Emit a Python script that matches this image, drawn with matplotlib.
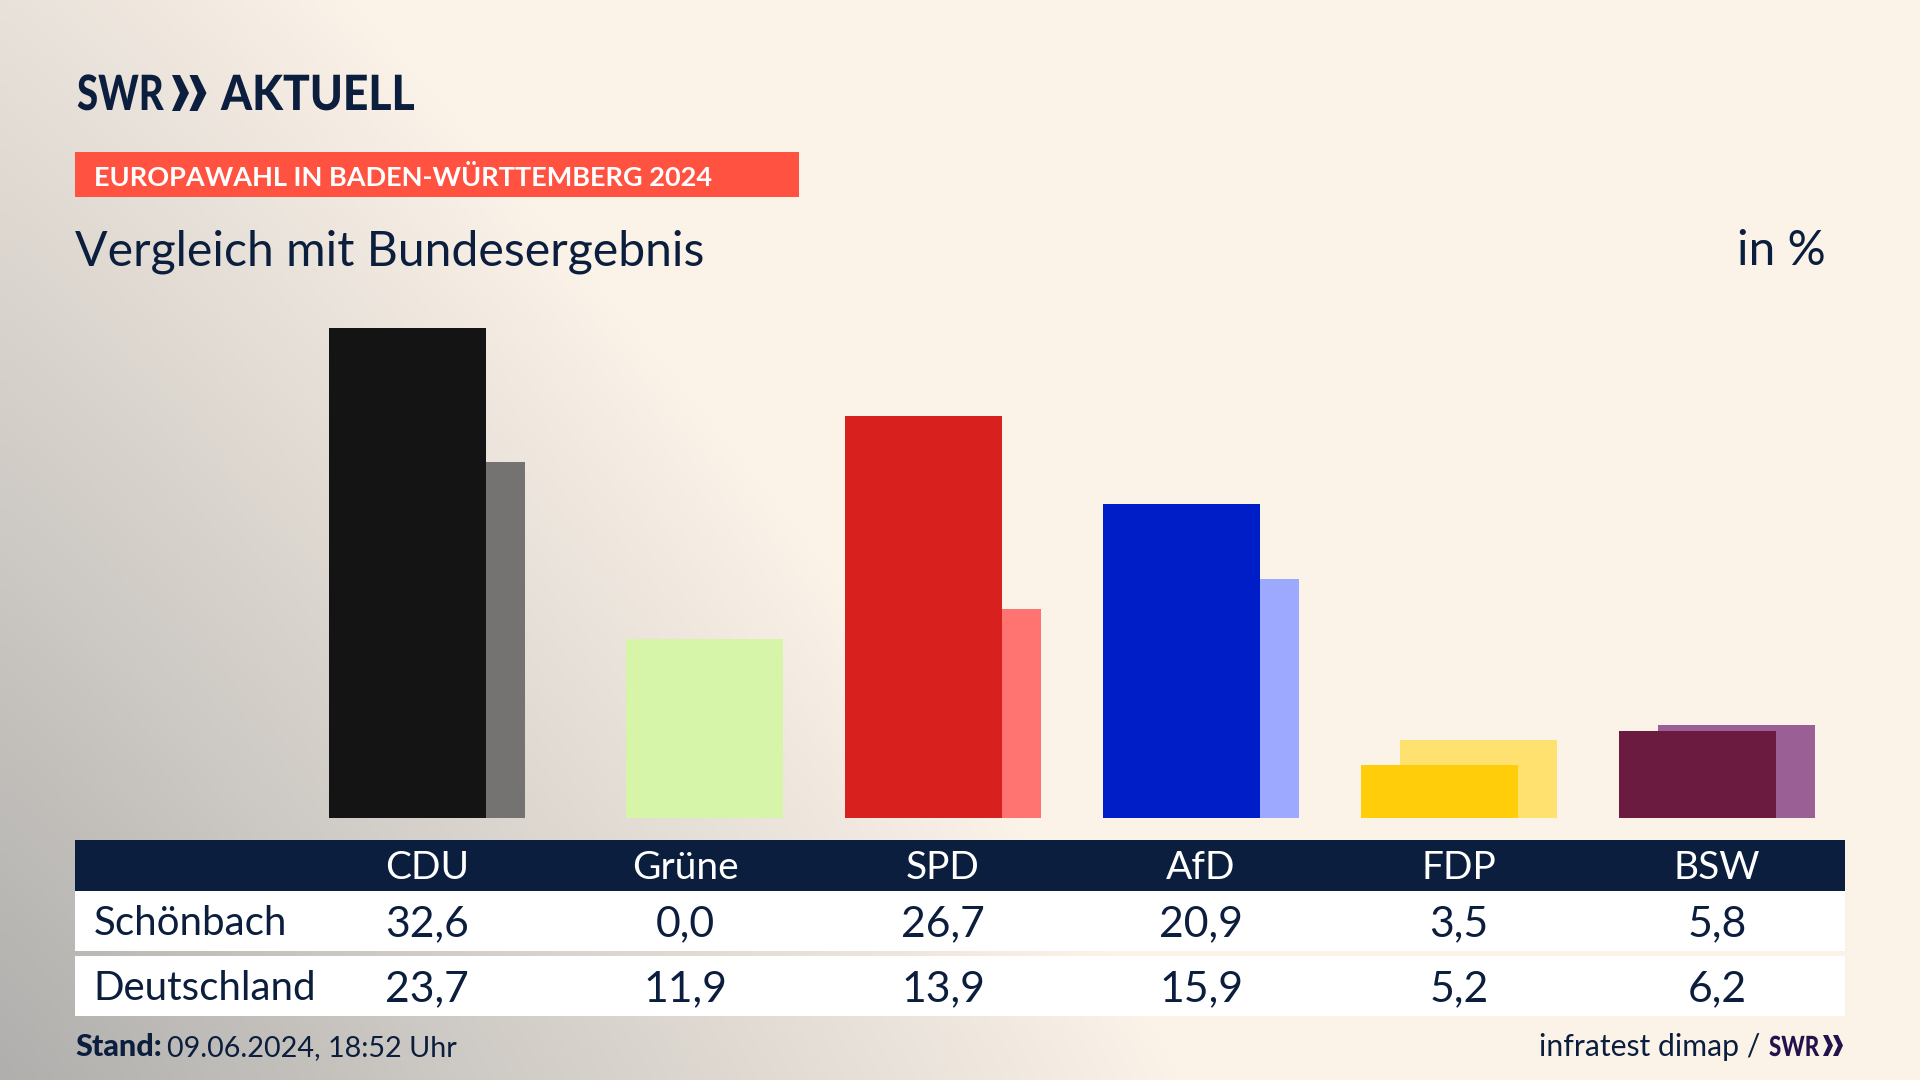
import numpy as np
import matplotlib
matplotlib.use("Agg")
import matplotlib.pyplot as plt
from matplotlib.patches import Rectangle, Polygon
from matplotlib.patheffects import AbstractPathEffect
from matplotlib.transforms import Affine2D

parties = ["CDU", "Grüne", "SPD", "AfD", "FDP", "BSW"]
local_name = "Schönbach"
national_name = "Deutschland"
local_values = [32.6, 0.0, 26.7, 20.9, 3.5, 5.8]
national_values = [23.7, 11.9, 13.9, 15.9, 5.2, 6.2]
local_colors = ["#141414", "#D6F5A8", "#D8201E", "#001EC8", "#FFCD0A", "#6B1A40"]
national_colors = ["#747371", "#D6F5A8", "#FF7370", "#9CA9FF", "#FFE170", "#9A5F95"]

NAVY = "#0B1E3D"
plt.rcParams["font.family"] = ["Lato", "DejaVu Sans"]

W, H = 1920, 1080
fig = plt.figure(figsize=(W / 100, H / 100), dpi=100)

def px_axes(x0, y0, x1, y1, **kw):
    return fig.add_axes([x0 / W, 1 - y1 / H, (x1 - x0) / W, (y1 - y0) / H], **kw)

class Squeeze(AbstractPathEffect):
    """Narrow a text horizontally about its left edge (the logo face is condensed)."""
    def __init__(self, sx, x_px):
        super().__init__()
        self.sx, self.x_px = sx, x_px
    def draw_path(self, renderer, gc, tpath, affine, rgbFace=None):
        t = Affine2D().translate(-self.x_px, 0).scale(self.sx, 1).translate(self.x_px, 0)
        renderer.draw_path(gc, tpath, affine + t, rgbFace)

def chevrons(axis, x, top, bottom, flat, depth, gap, color):
    mid = (top + bottom) / 2
    for dx in (0, gap):
        axis.add_patch(Polygon([[x + dx, top], [x + dx + flat, top], [x + dx + flat + depth, mid],
                                [x + dx + flat, bottom], [x + dx, bottom], [x + dx + flat, mid]],
                               closed=True, fc=color, ec="none"))

# background
bg = px_axes(0, 0, W, H)
yy, xx = np.mgrid[0:H:270j, 0:W:480j]
p = 1.1
t = np.clip(((xx / 1180) ** p + ((H - yy) / 1424) ** p) ** (1 / p), 0, 1)
c0 = np.array([0xB0, 0xAF, 0xAD]) / 255
c1 = np.array([0xFB, 0xF2, 0xE8]) / 255
img = c0[None, None, :] * (1 - t[..., None]) + c1[None, None, :] * t[..., None]
bg.imshow(img, extent=(0, W, H, 0), aspect="auto", interpolation="bilinear")
bg.set_xlim(0, W)
bg.set_ylim(H, 0)
bg.axis("off")

# logo
bg.text(77, 110, "SWR", fontsize=35, fontweight="black", color=NAVY, va="baseline",
        path_effects=[Squeeze(0.79, 77)])
chevrons(bg, 172, 75, 111, 8, 9, 17.5, NAVY)
bg.text(221, 110, "AKTUELL", fontsize=35, fontweight="black", color=NAVY, va="baseline",
        path_effects=[Squeeze(0.913, 221)])

# banner
bg.add_patch(Rectangle((75, 152), 724, 45, fc="#FF5240", ec="none"))
bg.text(94, 186, "EUROPAWAHL IN BADEN-WÜRTTEMBERG 2024", fontsize=19.5, fontweight="bold", color="white", va="baseline")

# headings
bg.text(75, 265, "Vergleich mit Bundesergebnis", fontsize=34.7, color=NAVY, va="baseline")
bg.text(1826, 265, "in %", fontsize=34.4, color=NAVY, va="baseline", ha="right")

# footer
bg.text(75, 1056, "Stand:", fontsize=22, fontweight="black", color=NAVY, va="baseline")
bg.text(167, 1056, "09.06.2024, 18:52 Uhr", fontsize=20.7, color=NAVY, va="baseline")
bg.text(1760, 1056, "infratest dimap /", fontsize=21.7, color=NAVY, va="baseline", ha="right")
bg.text(1769, 1056, "SWR", fontsize=20, fontweight="black", color="#24124D", va="baseline",
        path_effects=[Squeeze(0.80, 1769)])
chevrons(bg, 1823, 1035, 1056, 5, 5, 10, "#24124D")

# bars
X0, X1 = 75, 1845
STEP = 258.0
CENTER0 = 427.0
xlim = ((X0 - CENTER0) / STEP, (X1 - CENTER0) / STEP)
PX_PER_UNIT = 15.04
ax = px_axes(X0, 300, X1, 818)
ax.patch.set_alpha(0)
ax.set_xlim(*xlim)
ax.set_ylim(0, 518 / PX_PER_UNIT)
ax.axis("off")
x = np.arange(len(parties))
bw = 156.3 / STEP
off = 39.0 / STEP
ax.bar(x + off / 2, national_values, width=bw, color=national_colors, linewidth=0)
ax.bar(x - off / 2, local_values, width=bw, color=local_colors, linewidth=0)

# table
tb = px_axes(X0, 840, X1, 1016)
tb.patch.set_alpha(0)
tb.set_xlim(*xlim)
tb.set_ylim(176, 0)
tb.axis("off")
tb.add_patch(Rectangle((xlim[0], 0), xlim[1] - xlim[0], 51, fc=NAVY, ec="none"))
tb.add_patch(Rectangle((xlim[0], 51), xlim[1] - xlim[0], 60, fc="white", ec="none"))
tb.add_patch(Rectangle((xlim[0], 116), xlim[1] - xlim[0], 60, fc="white", ec="none"))
for i, name in enumerate(parties):
    tb.text(i, 39, name, fontsize=28, color="white", ha="center", va="baseline")
    tb.text(i, 96, f"{local_values[i]:.1f}".replace(".", ","), fontsize=30.8, color=NAVY, ha="center", va="baseline")
    tb.text(i, 161, f"{national_values[i]:.1f}".replace(".", ","), fontsize=30.8, color=NAVY, ha="center", va="baseline")
lx = xlim[0] + 18.5 / STEP
tb.text(lx, 95, local_name, fontsize=29, color=NAVY, va="baseline")
tb.text(lx, 160, national_name, fontsize=29, color=NAVY, va="baseline")

fig.savefig("out.png", dpi=100)
